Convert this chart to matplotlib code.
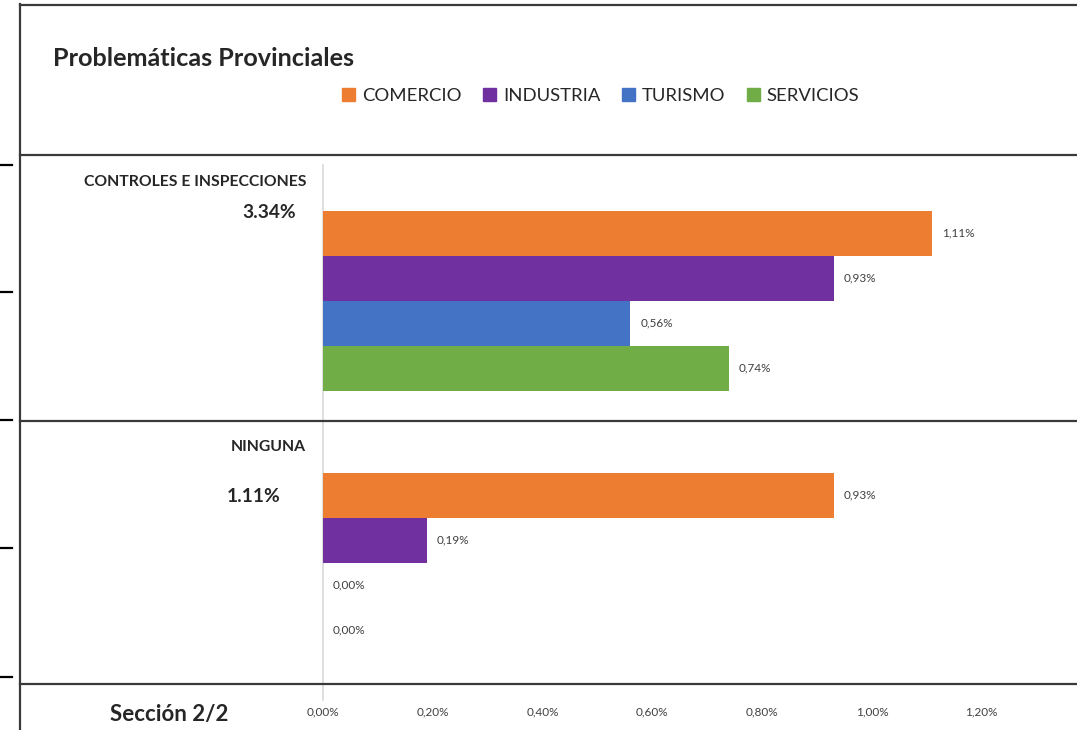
import numpy as np
import matplotlib.pyplot as plt
from matplotlib.patches import Patch

plt.rcParams['font.family'] = ['Lato', 'DejaVu Sans']

# data
series = ['COMERCIO', 'INDUSTRIA', 'TURISMO', 'SERVICIOS']
colors = ['#ED7D31', '#7030A0', '#4472C4', '#70AD47']
categories = ['CONTROLES E INSPECCIONES', 'NINGUNA']
totals = ['3.34%', '1.11%']
controles = [1.11, 0.93, 0.56, 0.74]
ninguna = [0.93, 0.19, 0.00, 0.00]
xticks = [0.0, 0.2, 0.4, 0.6, 0.8, 1.0, 1.2]

W, H = 1077, 730
fig = plt.figure(figsize=(W / 100, H / 100), dpi=100)
ax = fig.add_axes([0, 0, 1, 1])
ax.axis('off')

# x scale: 0% at px 323, ~549 px per 1%
x0, scale = 323, 549.0
ax.set_xlim(-x0 / scale, (W - x0) / scale)
ax.set_ylim(H, 0)

def px(x):
    return (x - x0) / scale

# frame lines
lc = '#3a3a3a'
ax.plot([px(20), px(20)], [4, H], color=lc, lw=1.6)
for yy in [5, 155, 421, 684]:
    ax.plot([px(20), px(W)], [yy, yy], color=lc, lw=1.6)
for yy in [165, 292, 420, 548, 677]:
    ax.plot([px(0), px(12)], [yy, yy], color='black', lw=1.6)

# zero gridline
ax.plot([0, 0], [165, 700], color='#d9d9d9', lw=1.2, zorder=0)

bar_h = 45
group_y = [[233, 278, 323, 368], [495, 540, 585, 630]]
for vals, ys in zip([controles, ninguna], group_y):
    ax.barh(ys, vals, height=bar_h, color=colors, zorder=2)
    for v, y in zip(vals, ys):
        ax.annotate(f'{v:.2f}%'.replace('.', ','), (v, y), xytext=(7, 0),
                    textcoords='offset points', va='center', ha='left',
                    fontsize=8.5, color='#404040')

# category labels
txt = '#262626'
ax.text(px(306), 182, categories[0], ha='right', va='center',
        fontsize=11.3, fontweight='bold', color=txt)
ax.text(px(296), 212, totals[0], ha='right', va='center',
        fontsize=13.8, fontweight='bold', color=txt)
ax.text(px(306), 447, categories[1], ha='right', va='center',
        fontsize=11.3, fontweight='bold', color=txt)
ax.text(px(280), 497, totals[1], ha='right', va='center',
        fontsize=13.8, fontweight='bold', color=txt)

# x tick labels
for t in xticks:
    ax.text(t, 712, f'{t:.2f}%'.replace('.', ','), ha='center', va='center',
            fontsize=8.5, color='#404040')

ax.text(px(169), 715, 'Sección 2/2', ha='center', va='center',
        fontsize=16, fontweight='bold', color=txt)

# title and legend
ax.text(px(53), 58, 'Problemáticas Provinciales', ha='left', va='center',
        fontsize=18.2, fontweight='bold', color=txt)
handles = [Patch(color=c, label=s) for c, s in zip(colors, series)]
fig.legend(handles=handles, loc='center', bbox_to_anchor=(0.558, 0.868),
           ncol=4, frameon=False, fontsize=13.3, handlelength=0.7,
           handleheight=0.7, handletextpad=0.35, columnspacing=1.2,
           labelcolor=txt)

fig.savefig('out.png', dpi=100)
